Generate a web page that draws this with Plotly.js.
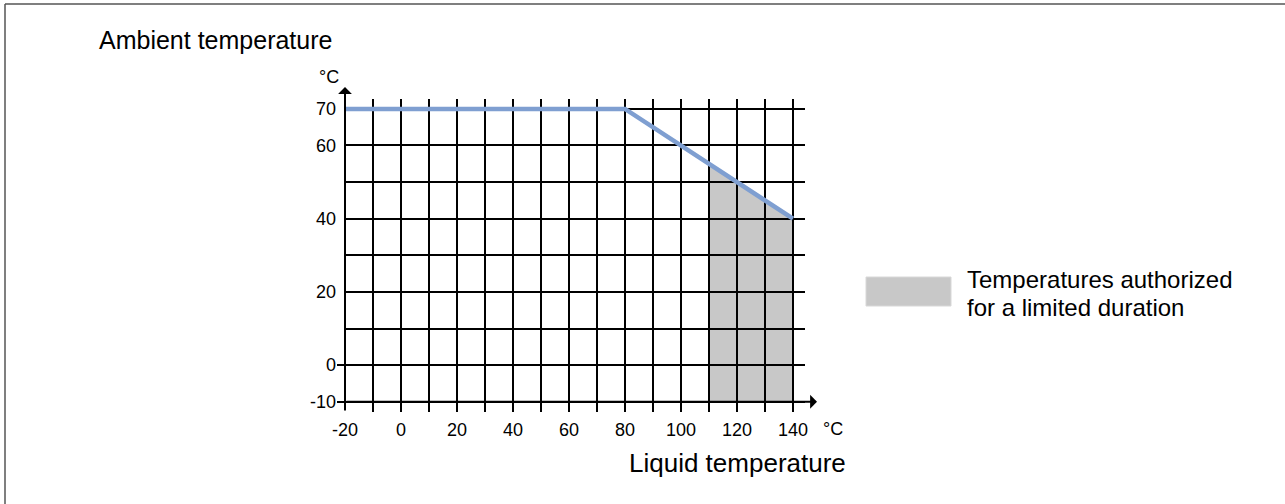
<!DOCTYPE html>
<html><head><meta charset="utf-8">
<script src="https://cdn.plot.ly/plotly-3.0.1.min.js"></script>
<style>html,body{margin:0;padding:0;background:#fff}</style>
</head><body><div id="chart" style="width:1285px;height:504px"></div>
<script>
// ---- data ----
const xGrid = [-20,-10,0,10,20,30,40,50,60,70,80,90,100,110,120,130,140];
const xLabels = ['-20','','0','','20','','40','','60','','80','','100','','120','','140'];
const yGrid = [-10,0,10,20,30,40,50,60,70];
const yLabels = ['-10','0','','20','','40','','60','70'];
const yStubs = [-10, 0];
const limitX = [-20, 80, 140];
const limitY = [70, 70, 40];
const zoneX = [110, 110, 140, 140];
const zoneY = [-10, 55, 40, -10];
const xTitle = 'Liquid temperature';
const yTitle = 'Ambient temperature';
const unit = '°C';
const legendLines = ['Temperatures authorized', 'for a limited duration'];

// ---- layout helpers ----
const W = 1285, H = 504;
const M = {l: 345, r: 480, t: 99, b: 92};
const xRange = [-20, 144.3];
const yRange = [-12.8, 72.7];
const px = v => (v - M.l) / (W - M.l - M.r);
const py = v => (H - M.b - v) / (H - M.t - M.b);
const FONT = 'Liberation Sans, Arial, Helvetica, sans-serif';

const traces = [
  {x: zoneX, y: zoneY, type: 'scatter', mode: 'lines', fill: 'toself',
   fillcolor: 'rgba(0,0,0,0.216)', line: {width: 0}, xaxis: 'x', yaxis: 'y2',
   showlegend: false, hoverinfo: 'skip'},
  {x: limitX, y: limitY, type: 'scatter', mode: 'lines',
   line: {color: '#7f9fd1', width: 4.5}, xaxis: 'x', yaxis: 'y2',
   showlegend: false, hoverinfo: 'skip'}
];

const tickFont = {family: FONT, size: 18, color: '#000'};
const legendFont = {family: FONT, size: 24, color: '#000'};
const yTitleFont = {family: FONT, size: 25, color: '#000'};
const xTitleFont = {family: FONT, size: 26, color: '#000'};

const layout = {
  width: W, height: H, margin: M,
  paper_bgcolor: '#fff', plot_bgcolor: '#fff',
  showlegend: false, hovermode: false,
  xaxis: {range: xRange, tickmode: 'array', tickvals: xGrid, ticktext: xLabels,
          showgrid: true, gridcolor: '#000', gridwidth: 2, zeroline: false,
          showline: false, ticks: '', tickfont: tickFont, ticklabelstandoff: 5,
          fixedrange: true},
  yaxis: {range: yRange, tickmode: 'array', tickvals: yGrid, ticktext: yLabels,
          showgrid: true, gridcolor: '#000', gridwidth: 2, zeroline: false,
          showline: false, ticks: '', tickfont: tickFont, ticklabelstandoff: 8,
          fixedrange: true},
  yaxis2: {range: yRange, overlaying: 'y', side: 'left', tickmode: 'array',
           tickvals: yStubs, ticks: 'outside', ticklen: 7, tickwidth: 2,
           tickcolor: '#000', showticklabels: false, showgrid: false,
           zeroline: false, showline: false, fixedrange: true},
  shapes: [
    // frame (left and top edges visible in the picture)
    {type: 'line', xref: 'paper', yref: 'paper', x0: px(5), x1: px(5),
     y0: py(4), y1: py(504), line: {color: '#555', width: 1.5}, layer: 'above'},
    {type: 'line', xref: 'paper', yref: 'paper', x0: px(5), x1: px(1285),
     y0: py(4), y1: py(4), line: {color: '#555', width: 1.5}, layer: 'above'},
    // legend swatch
    {type: 'rect', xref: 'paper', yref: 'paper', x0: px(866), x1: px(951),
     y0: py(306), y1: py(277), fillcolor: '#c8c8c8',
     line: {color: '#d8d8d8', width: 1}}
  ],
  annotations: [
    // axis arrows
    {xref: 'x', yref: 'paper', x: xRange[0], y: py(87), ax: 0, ay: 325,
     axref: 'pixel', ayref: 'pixel', text: '', showarrow: true,
     arrowhead: 1, arrowsize: 1.15, arrowwidth: 2, arrowcolor: '#000'},
    {xref: 'paper', yref: 'y', x: px(817), y: -10, ax: -(817 - M.l), ay: 0,
     axref: 'pixel', ayref: 'pixel', text: '', showarrow: true,
     arrowhead: 1, arrowsize: 1.15, arrowwidth: 2, arrowcolor: '#000'},
    // titles
    {xref: 'paper', yref: 'paper', x: px(97), y: py(40), xanchor: 'left',
     yanchor: 'middle', text: yTitle, showarrow: false, font: yTitleFont},
    {xref: 'paper', yref: 'paper', x: px(627), y: py(463), xanchor: 'left',
     yanchor: 'middle', text: xTitle, showarrow: false, font: xTitleFont},
    {xref: 'paper', yref: 'paper', x: px(317), y: py(77), xanchor: 'left',
     yanchor: 'middle', text: unit, showarrow: false, font: tickFont},
    {xref: 'paper', yref: 'paper', x: px(821), y: py(429), xanchor: 'left',
     yanchor: 'middle', text: unit, showarrow: false, font: tickFont},
    // legend text
    {xref: 'paper', yref: 'paper', x: px(965), y: py(279), xanchor: 'left',
     yanchor: 'middle', text: legendLines[0], showarrow: false, font: legendFont},
    {xref: 'paper', yref: 'paper', x: px(965), y: py(307), xanchor: 'left',
     yanchor: 'middle', text: legendLines[1], showarrow: false, font: legendFont}
  ]
};

Plotly.newPlot('chart', traces, layout, {staticPlot: true, displayModeBar: false});
</script>
</body></html>
